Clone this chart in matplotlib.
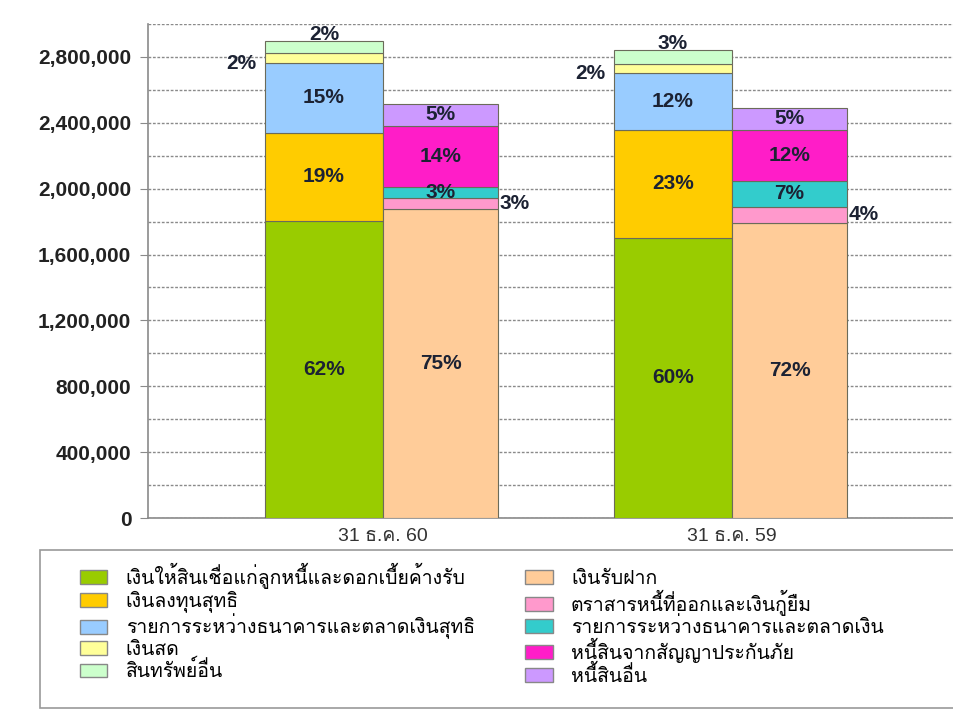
import numpy as np
import matplotlib
matplotlib.use("Agg")
import matplotlib.pyplot as plt
from matplotlib import font_manager
from matplotlib.ft2font import FT2Font
from matplotlib.patches import Patch, Rectangle
from matplotlib.ticker import MultipleLocator, FuncFormatter

# --- data ---
periods = ["31 ธ.ค. 60", "31 ธ.ค. 59"]

asset_names = ["เงินให้สินเชื่อแก่ลูกหนี้และดอกเบี้ยค้างรับ", "เงินลงทุนสุทธิ",
               "รายการระหว่างธนาคารและตลาดเงินสุทธิ", "เงินสด", "สินทรัพย์อื่น"]
liab_names = ["เงินรับฝาก", "ตราสารหนี้ที่ออกและเงินกู้ยืม",
              "รายการระหว่างธนาคารและตลาดเงิน", "หนี้สินจากสัญญาประกันภัย", "หนี้สินอื่น"]

loans = [1805000, 1703000]
investments = [535000, 655000]
interbank_assets = [425000, 345000]
cash = [60000, 55000]
other_assets = [70000, 84000]

deposits = [1879000, 1794000]
debt_issued = [66000, 97000]
interbank_liab = [67000, 157000]
insurance_liab = [370000, 310000]
other_liab = [133000, 133000]

loans_pct = ["62%", "60%"]
investments_pct = ["19%", "23%"]
interbank_assets_pct = ["15%", "12%"]
cash_pct = ["2%", "2%"]
other_assets_pct = ["2%", "3%"]
deposits_pct = ["75%", "72%"]
debt_issued_pct = ["3%", "4%"]
interbank_liab_pct = ["3%", "7%"]
insurance_liab_pct = ["14%", "12%"]
other_liab_pct = ["5%", "5%"]

asset_colors = ["#99CC00", "#FFCC00", "#99CCFF", "#FFFF99", "#CCFFCC"]
liab_colors = ["#FFCC99", "#FF99CC", "#33CCCC", "#FF1DC8", "#CC99FF"]


# find a font that has thai glyphs
def thai_font():
    good = []
    for f in font_manager.fontManager.ttflist:
        try:
            if 0x0E01 in FT2Font(f.fname).get_charmap():
                good.append(f.name)
        except Exception:
            pass
    return good[0] if good else "DejaVu Sans"

thai = thai_font()
plt.rcParams['font.family'] = ['Liberation Sans', thai, 'DejaVu Sans']

fig = plt.figure(figsize=(9.54, 7.10), dpi=100)
ax = fig.add_axes([148/954, 1-518/710, 1-148/954, (518-24)/710])

x = np.arange(len(periods))
wa, wl = 0.338, 0.33

asset_series = [loans, investments, interbank_assets, cash, other_assets]
asset_labels = [loans_pct, investments_pct, interbank_assets_pct, cash_pct, other_assets_pct]
liab_series = [deposits, debt_issued, interbank_liab, insurance_liab, other_liab]
liab_labels = [deposits_pct, debt_issued_pct, interbank_liab_pct, insurance_liab_pct, other_liab_pct]

txt = dict(fontsize=15, fontweight='bold', color='#1c2233')

bottom = np.zeros(len(periods))
for k, (vals, labs, col) in enumerate(zip(asset_series, asset_labels, asset_colors)):
    vals = np.array(vals)
    bars = ax.bar(x, vals, -wa, bottom=bottom, align='edge', color=col,
                  edgecolor='#6b6b5a', linewidth=0.8, zorder=3)
    for i, b in enumerate(bars):
        cy = bottom[i] + vals[i]/2
        left = b.get_x() + b.get_width()   # width is negative here
        if k == 3:    # cash -> left of bar
            ax.annotate(labs[i], (left, cy), xytext=(-6, -4), textcoords='offset points',
                        ha='right', va='center', **txt)
        elif k == 4:  # other -> above bar
            ax.annotate(labs[i], (left + wa/2, bottom[i]+vals[i]),
                        xytext=(0, -2), textcoords='offset points', ha='center', va='bottom', **txt)
        else:
            ax.text(left + wa/2, cy, labs[i], ha='center', va='center', zorder=4, **txt)
    bottom += vals

bottom = np.zeros(len(periods))
for k, (vals, labs, col) in enumerate(zip(liab_series, liab_labels, liab_colors)):
    vals = np.array(vals)
    bars = ax.bar(x, vals, wl, bottom=bottom, align='edge', color=col,
                  edgecolor='#6b6b5a', linewidth=0.8, zorder=3)
    for i, b in enumerate(bars):
        cy = bottom[i] + vals[i]/2
        if k == 1:    # debt issued -> right of bar
            ax.annotate(labs[i], (b.get_x()+b.get_width(), cy), xytext=(1, 0),
                        textcoords='offset points', ha='left', va='center', **txt)
        else:
            ax.text(b.get_x()+b.get_width()/2, cy, labs[i], ha='center', va='center', zorder=4, **txt)
    bottom += vals

ax.set_xlim(-0.673, 1.636)
ax.set_ylim(0, 3000000)
ax.yaxis.set_major_locator(MultipleLocator(400000))
ax.yaxis.set_minor_locator(MultipleLocator(200000))
ax.yaxis.set_major_formatter(FuncFormatter(lambda v, p: f"{int(v):,}"))
ax.grid(axis='y', which='both', linestyle=(0, (2.0, 1.2)), color='#8a8a8a', linewidth=1.0, zorder=0)
ax.tick_params(axis='y', which='major', labelsize=15, length=6, color='#8a8a8a', pad=6)
ax.tick_params(axis='y', which='minor', length=0)
for t in ax.get_yticklabels():
    t.set_fontweight('bold')
    t.set_color('#222222')
ax.set_xticks(x)
ax.set_xticklabels(periods, fontsize=14, color='#333333')
ax.tick_params(axis='x', length=0, pad=7)
for s in ['top', 'right']:
    ax.spines[s].set_visible(False)
ax.spines['left'].set_color('#8a8a8a')
ax.spines['bottom'].set_color('#8a8a8a')
ax.spines['left'].set_linewidth(1.2)
ax.spines['bottom'].set_linewidth(1.2)

# legend box (runs off the right edge like the original)
fig.patches.append(Rectangle((40/954, 2/710), 1.0, (708-550)/710, transform=fig.transFigure,
                             facecolor='white', edgecolor='#999999', linewidth=1.2))
handles = [Patch(facecolor=c, edgecolor='#888888') for c in asset_colors + liab_colors]
fig.legend(handles, asset_names + liab_names, ncol=2, loc='upper left',
           bbox_to_anchor=(80/954, 1-563/710), frameon=False,
           prop={'family': [thai, 'DejaVu Sans'], 'size': 14},
           handlelength=1.4, handleheight=0.72, handletextpad=0.95, labelspacing=0.07,
           columnspacing=2.6, borderaxespad=0, borderpad=0)

fig.savefig("out.png", dpi=100)
